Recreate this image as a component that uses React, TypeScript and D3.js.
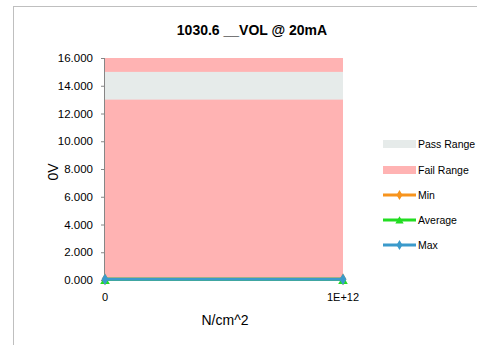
import React from "react";
import * as d3 from "d3";

const categories = ["0", "1E+12"];
const minValues = [0, 0];
const avgValues = [0, 0];
const maxValues = [0, 0];
const passRange = [13, 15];
const yTicks = [0, 2, 4, 6, 8, 10, 12, 14, 16];
const legendItems = ["Pass Range", "Fail Range", "Min", "Average", "Max"];
const title = "1030.6 __VOL @ 20mA";
const xTitle = "N/cm^2";
const yTitle = "0V";

const W = 477;
const H = 345;
const FONT = "'Liberation Sans', Arial, sans-serif";

export default function App() {
  const left = 105, right = 343, top = 58, bottom = 280;
  const x = d3.scalePoint<string>().domain(categories).range([left, right]);
  const y = d3.scaleLinear().domain([0, 16]).range([bottom, top]);

  const series = [
    { name: "Min", values: minValues, color: "#f7941d", marker: "diamond" },
    { name: "Average", values: avgValues, color: "#22dd22", marker: "triangle" },
    { name: "Max", values: maxValues, color: "#3b9acb", marker: "diamond" },
  ];
  const line = d3
    .line<number>()
    .x((_, i) => x(categories[i]) as number)
    .y((d) => y(d) - 0.7);

  const marker = (type: string, cx: number, cy: number, color: string, size: number) => {
    if (type === "triangle") {
      const p = d3.symbol().type(d3.symbolTriangle).size(size)();
      return <path d={p || ""} transform={`translate(${cx},${cy + 2})`} fill={color} />;
    }
    const p = d3.symbol().type(d3.symbolDiamond).size(size)();
    return <path d={p || ""} transform={`translate(${cx},${cy})`} fill={color} />;
  };

  const legX = 383;
  const legY = [144, 170, 195, 220, 245];

  return (
    <svg width={W} height={H} style={{ position: "absolute", left: 0, top: 0, background: "#fff" }}>
      <rect x={0} y={0} width={W} height={H} fill="#fff" />
      <line x1={13} y1={6.5} x2={W} y2={6.5} stroke="#bfbfbf" strokeWidth={1} />
      <line x1={13.5} y1={6} x2={13.5} y2={H} stroke="#bfbfbf" strokeWidth={1} />

      <text x={252} y={35} textAnchor="middle" fontFamily={FONT} fontWeight="bold" fontSize={14} fill="#000">
        {title}
      </text>

      <rect x={left} y={y(16)} width={right - left} height={y(0) - y(16)} fill="#ffb3b3" />
      <rect
        x={left}
        y={y(passRange[1])}
        width={right - left}
        height={y(passRange[0]) - y(passRange[1])}
        fill="#e6ebea"
      />

      <line x1={left - 0.5} y1={y(16)} x2={left - 0.5} y2={y(0)} stroke="#868686" />
      {yTicks.map((t) => (
        <g key={t}>
          <line x1={left - 4} x2={left} y1={y(t) + 0.5} y2={y(t) + 0.5} stroke="#868686" />
          <text x={93} y={y(t) + 4} textAnchor="end" fontFamily={FONT} fontSize={11.5} fill="#000">
            {t.toFixed(3)}
          </text>
        </g>
      ))}
      <line x1={left} x2={right} y1={bottom + 0.5} y2={bottom + 0.5} stroke="#868686" />
      {categories.map((c) => (
        <text key={c} x={x(c) as number} y={301} textAnchor="middle" fontFamily={FONT} fontSize={11} fill="#000">
          {c}
        </text>
      ))}

      {series.map((s) => (
        <g key={s.name}>
          <path d={line(s.values) || ""} fill="none" stroke={s.color} strokeWidth={3} />
          {s.values.map((v, i) => (
            <g key={i}>{marker(s.marker, x(categories[i]) as number, y(v) - 0.7, s.color, 40)}</g>
          ))}
        </g>
      ))}

      <text x={225} y={325} textAnchor="middle" fontFamily={FONT} fontSize={14} fill="#000">
        {xTitle}
      </text>
      <text transform={`translate(58,172) rotate(-90)`} textAnchor="middle" fontFamily={FONT} fontSize={14} fill="#000">
        {yTitle}
      </text>

      {legendItems.map((name, i) => {
        const ly = legY[i];
        let sym: React.ReactNode = null;
        if (i === 0) sym = <rect x={legX} y={ly - 4} width={33} height={8} fill="#e6ebea" />;
        else if (i === 1) sym = <rect x={legX} y={ly - 4} width={33} height={8} fill="#ffb3b3" />;
        else {
          const s = series[i - 2];
          sym = (
            <g>
              <line x1={legX} x2={legX + 33} y1={ly} y2={ly} stroke={s.color} strokeWidth={3} />
              {marker(s.marker, legX + 16.5, ly - (s.marker === "triangle" ? 1 : 0), s.color, 30)}
            </g>
          );
        }
        return (
          <g key={name}>
            {sym}
            <text x={418} y={ly + 4} fontFamily={FONT} fontSize={10.5} fill="#000">
              {name}
            </text>
          </g>
        );
      })}
    </svg>
  );
}
